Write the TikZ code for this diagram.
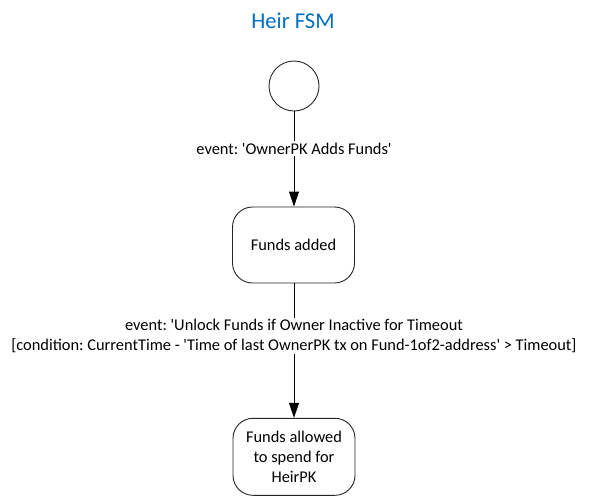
\documentclass[tikz,border=0pt]{standalone}
\usepackage{fontspec}
\setmainfont{Carlito}
\usetikzlibrary{arrows.meta}
\definecolor{titleblue}{RGB}{0,112,192}
\newcommand{\sq}{\textquotesingle}
\frenchspacing
\tikzset{
  bodytext/.style={font=\fontsize{16.4}{19.8}\selectfont\frenchspacing},
  statebox/.style={draw=black!85, line width=0.9pt, rounded corners=20pt, fill=white,
    minimum width=122pt, minimum height=76pt, align=center, inner sep=2pt, bodytext},
  startstate/.style={draw=black!85, line width=0.9pt, circle, minimum size=50pt, inner sep=0pt, fill=white},
  trans/.style={draw=black, line width=0.9pt, -{Triangle[length=15pt,width=10pt]}},
  translabel/.style={fill=white, align=center, inner sep=1.5pt, bodytext},
}
\begin{document}
\begin{tikzpicture}[x=1pt,y=-1pt]
\useasboundingbox (0,0) rectangle (592,496);
\node[text=titleblue, font=\fontsize{22.6}{27}\selectfont] (title) at (293,21) {Heir FSM};
\node[startstate] (start) at (294,86) {};
\node[statebox] (added) at (293.5,245) {Funds added};
\node[statebox, minimum height=77pt] (allowed) at (294,456.8) {Funds allowed\\to spend for\\HeirPK};
\draw[trans] (start) -- node[translabel, pos=0.39] (l1) {event: \sq OwnerPK Adds Funds\sq} (start |- added.north);
\draw[trans] (start |- added.south) -- node[translabel, pos=0.39] (l2) {event: \sq Unlock Funds if Owner Inactive for Timeout\\{}[condition: CurrentTime - \sq Time of last OwnerPK tx on Fund-1of2-address\sq{} > Timeout]} (start |- allowed.north);
\end{tikzpicture}
\end{document}
